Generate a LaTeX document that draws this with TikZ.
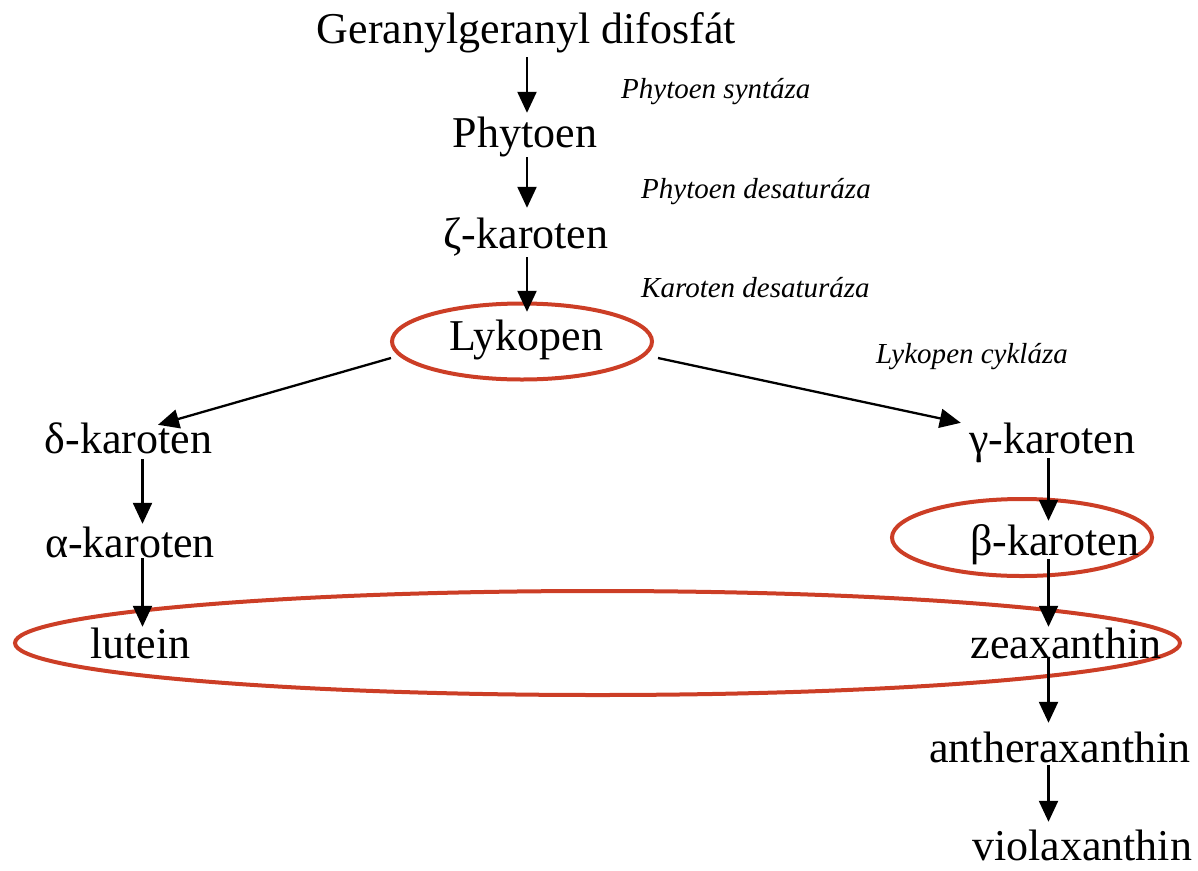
\documentclass[tikz,border=0pt]{standalone}
\usepackage{fontspec}
\setmainfont{Liberation Serif}
\usetikzlibrary{arrows.meta,shapes.geometric,calc}
\definecolor{ringred}{RGB}{204,62,38}
\begin{document}
\begin{tikzpicture}[x=1pt,y=-1pt,
  lbl/.style={anchor=base, inner sep=0pt, text height=33pt, text depth=5pt, font=\fontsize{44}{50}\selectfont},
  enz/.style={anchor=base west, inner sep=0pt, font=\fontsize{29}{34}\selectfont\itshape},
  arr/.style={line width=2.3pt, -{Triangle[length=21pt,width=19pt]}},
  ring/.style={draw=ringred, line width=4pt, ellipse, inner sep=0pt, outer sep=0pt}
]
\useasboundingbox (0,0) rectangle (1198,870);

% rings
\node[ring, minimum width=260pt, minimum height=76pt] (lyE) at (522,341.5) {};
\node[ring, minimum width=260pt, minimum height=77pt] (bkE) at (1022,537.5) {};
\node[ring, minimum width=1165pt, minimum height=104pt] (bigE) at (597.5,643) {};

% column guides
\coordinate (cx) at (527,0);
\coordinate (lx) at (142.5,0);
\coordinate (rx) at (1048.5,0);

% compounds
\node[lbl] (gg) at (526.5,43) {Geranylgeranyl difosfát};
\node[lbl] (ph) at (525,147) {Phytoen};
\node[lbl] (zk) at (526,248) {ζ-karoten};
\node[lbl] (ly) at (526,350) {Lykopen};
\node[lbl] (dk) at (128.5,453) {δ-karoten};
\node[lbl] (ak) at (130,557) {α-karoten};
\node[lbl] (lu) at (140.5,658) {lutein};
\node[lbl] (gk) at (1052,453) {γ-karoten};
\node[lbl] (bk) at (1054.5,555) {β-karoten};
\node[lbl] (ze) at (1066,658) {zeaxanthin};
\node[lbl] (an) at (1060,762) {antheraxanthin};
\node[lbl] (vi) at (1082,860) {violaxanthin};

% enzymes
\node[enz] (e1) at (621,98) {Phytoen syntáza};
\node[enz] (e2) at (641,198) {Phytoen desaturáza};
\node[enz] (e3) at (641,297) {Karoten desaturáza};
\node[enz] (e4) at (876,363) {Lykopen cykláza};

% arrows
\draw[arr, shorten <=9pt, shorten >=1pt] (gg.south -| cx) -- (ph.north -| cx);
\draw[arr, shorten <=5pt, shorten >=7pt] (ph.south -| cx) -- (zk.north -| cx);
\draw[arr, shorten <=4pt, shorten >=5pt] (zk.south -| cx) -- (ly.north -| cx);
\draw[arr] ($(lyE.west)+(-1,16.5)$) -- ($(dk.north)+(29.5,5)$);
\draw[arr] ($(lyE.east)+(6,16.5)$) -- ($(gk.north west)+(-8,3)$);
\draw[arr, shorten <=1pt] (dk.south -| lx) -- (ak.north -| lx);
\draw[arr, shorten <=-4pt, shorten >=-2pt] (ak.south -| lx) -- (lu.north -| lx);
\draw[arr, shorten >=1pt] (gk.south -| rx) -- (bk.north -| rx);
\draw[arr, shorten <=-1pt, shorten >=-2pt] (bk.south -| rx) -- (ze.north -| rx);
\draw[arr, shorten <=-5pt, shorten >=6pt] (ze.south -| rx) -- (an.north -| rx);
\draw[arr, shorten <=-2pt, shorten >=5pt] (an.south -| rx) -- (vi.north -| rx);
\end{tikzpicture}
\end{document}
